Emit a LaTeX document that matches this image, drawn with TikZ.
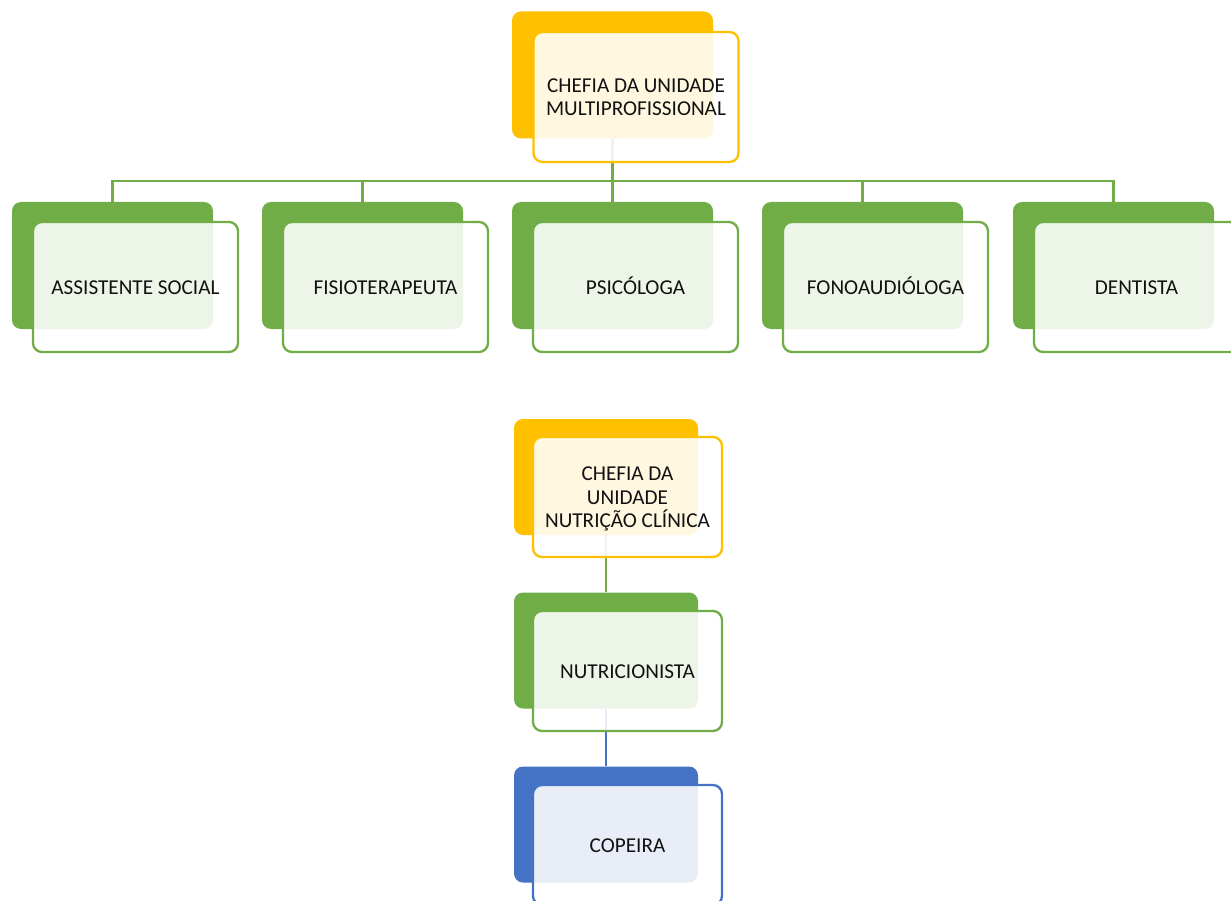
\documentclass[tikz,border=0pt]{standalone}
\usepackage{fontspec}
\setmainfont{Carlito}
\definecolor{cOrange}{HTML}{FFC000}
\definecolor{cGreen}{HTML}{70AD47}
\definecolor{cBlue}{HTML}{4472C4}
\definecolor{cText}{HTML}{111111}
\newcommand{\ph}{\vphantom{ÓÇ}}
\begin{document}
\begin{tikzpicture}[x=1pt,y=-1pt,
  backbox/.style={rectangle, rounded corners=9pt, fill=#1, inner sep=0pt},
  bigback/.style={minimum width=201pt, minimum height=127pt},
  bigfront/.style={minimum width=205pt, minimum height=130pt},
  smallback/.style={minimum width=184pt, minimum height=116pt},
  smallfront/.style={minimum width=189pt, minimum height=120pt},
  frontbox/.style={rectangle, rounded corners=9pt, draw=#1, line width=2.3pt,
    fill=white, fill opacity=0.88, text opacity=1, text=cText, inner sep=0pt,
    align=center, font=\fontsize{21.2}{23.5}\selectfont},
  link/.style={draw=#1, line width=2.2pt}
]
\useasboundingbox (0,0) rectangle (1231,901);
\begin{scope}
\clip (0,0) rectangle (1231,901);
% back boxes
\node[backbox=cOrange, bigback] (b0) at (612.5,75) {};
\node[backbox=cGreen, bigback] (b1) at (112.5,265.5) {};
\node[backbox=cGreen, bigback] (b2) at (362.5,265.5) {};
\node[backbox=cGreen, bigback] (b3) at (612.5,265.5) {};
\node[backbox=cGreen, bigback] (b4) at (862.5,265.5) {};
\node[backbox=cGreen, bigback] (b5) at (1113.5,265.5) {};
\node[backbox=cOrange, smallback] (n0) at (606,477) {};
\node[backbox=cGreen, smallback] (n1) at (606,650.5) {};
\node[backbox=cBlue, smallback] (n2) at (606,824.5) {};
% connectors
\coordinate (bar) at (612.5,181);
\draw[link=cGreen] (b0.south) -- (b0.south |- bar) -| (b1.north);
\draw[link=cGreen] (b0.south |- bar) -| (b2.north);
\draw[link=cGreen] (b0.south |- bar) -- (b3.north);
\draw[link=cGreen] (b0.south |- bar) -| (b4.north);
\draw[link=cGreen] (b0.south |- bar) -| (b5.north);
\draw[link=cGreen] (n0.south) -- (n1.north);
\draw[link=cBlue] (n1.south) -- (n2.north);
% front boxes
\node[frontbox=cOrange, bigfront] (f0) at (636,97) {\ph CHEFIA DA UNIDADE\\MULTIPROFISSIONAL\ph};
\node[frontbox=cGreen, bigfront] (f1) at (135.5,287) {\ph ASSISTENTE SOCIAL};
\node[frontbox=cGreen, bigfront] (f2) at (385.5,287) {\ph FISIOTERAPEUTA};
\node[frontbox=cGreen, bigfront] (f3) at (635.5,287) {\ph PSICÓLOGA};
\node[frontbox=cGreen, bigfront] (f4) at (885.5,287) {\ph FONOAUDIÓLOGA};
\node[frontbox=cGreen, bigfront] (f5) at (1136.5,287) {\ph DENTISTA};
\node[frontbox=cOrange, smallfront] (g0) at (627.5,497) {\ph CHEFIA DA\\UNIDADE\\NUTRIÇÃO CLÍNICA\ph};
\node[frontbox=cGreen, smallfront] (g1) at (627.5,671) {\ph NUTRICIONISTA};
\node[frontbox=cBlue, smallfront] (g2) at (627.5,845) {\ph COPEIRA};
\end{scope}
\end{tikzpicture}
\end{document}
